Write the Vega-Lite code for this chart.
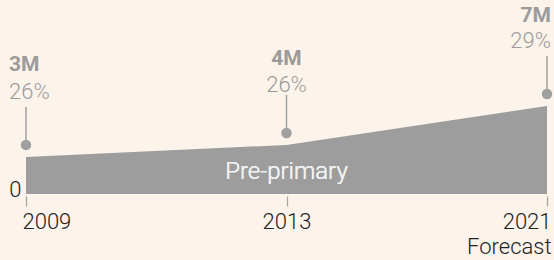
{
  "$schema": "https://vega.github.io/schema/vega-lite/v6.json",
  "width": 521,
  "height": 194,
  "autosize": {"type": "none"},
  "padding": {"left": 26, "top": 0, "right": 7, "bottom": 66},
  "background": "#fcf3ea",
  "config": {"view": {"stroke": null}, "font": "Roboto"},
  "data": {
    "values": [
      {"year": 2009, "value": 2.95, "label": "3M", "share": "26%"},
      {"year": 2013, "value": 3.9, "label": "4M", "share": "26%"},
      {"year": 2021, "value": 7.0, "label": "7M", "share": "29%"}
    ]
  },
  "encoding": {
    "x": {
      "field": "year",
      "type": "ordinal",
      "scale": {"type": "point", "padding": 0},
      "axis": {
        "title": null,
        "domain": false,
        "grid": false,
        "ticks": true,
        "tickSize": 10,
        "tickColor": "#a3a3a3",
        "tickWidth": 1.2,
        "offset": 2,
        "labelAngle": 0,
        "labelFontSize": 22,
        "labelFontWeight": 300,
        "labelColor": "#222222",
        "labelFlush": true,
        "labelFlushOffset": 4,
        "labelPadding": 5,
        "labelLineHeight": 25,
        "labelExpr": "datum.value == 2021 ? ['2021', 'Forecast'] : datum.label"
      }
    },
    "y": {
      "field": "value",
      "type": "quantitative",
      "scale": {"domain": [0, 15.43], "nice": false},
      "axis": {
        "title": null,
        "values": [0],
        "domain": false,
        "ticks": false,
        "grid": false,
        "labelPadding": 5,
        "labelFontSize": 22,
        "labelFontWeight": 300,
        "labelColor": "#222222",
        "labelBaseline": "alphabetic",
        "labelOffset": 2
      }
    }
  },
  "layer": [
    {"mark": {"type": "area", "color": "#9d9d9d", "opacity": 1}},
    {
      "mark": {"type": "rule", "color": "#a3a3a3", "strokeWidth": 1.5, "yOffset": -12, "y2Offset": -50},
      "encoding": {"y2": {"field": "value"}}
    },
    {"mark": {"type": "point", "filled": true, "color": "#a0a0a0", "size": 110, "opacity": 1, "yOffset": -12}},
    {
      "transform": [{"filter": "datum.year == 2009"}],
      "layer": [
        {"mark": {"type": "text", "align": "left", "dx": -17, "dy": -58, "baseline": "alphabetic", "fontSize": 22, "fontWeight": 300, "color": "#9b9b9b"}, "encoding": {"text": {"field": "share"}}},
        {"mark": {"type": "text", "align": "left", "dx": -17, "dy": -86, "baseline": "alphabetic", "fontSize": 21, "fontWeight": "bold", "color": "#9b9b9b"}, "encoding": {"text": {"field": "label"}}}
      ]
    },
    {
      "transform": [{"filter": "datum.year == 2013"}],
      "layer": [
        {"mark": {"type": "text", "align": "center", "dy": -53, "baseline": "alphabetic", "fontSize": 22, "fontWeight": 300, "color": "#9b9b9b"}, "encoding": {"text": {"field": "share"}}},
        {"mark": {"type": "text", "align": "center", "dy": -80, "baseline": "alphabetic", "fontSize": 21, "fontWeight": "bold", "color": "#9b9b9b"}, "encoding": {"text": {"field": "label"}}}
      ]
    },
    {
      "transform": [{"filter": "datum.year == 2021"}],
      "layer": [
        {"mark": {"type": "text", "align": "right", "dx": 4, "dy": -58, "baseline": "alphabetic", "fontSize": 22, "fontWeight": 300, "color": "#9b9b9b"}, "encoding": {"text": {"field": "share"}}},
        {"mark": {"type": "text", "align": "right", "dx": 4, "dy": -84, "baseline": "alphabetic", "fontSize": 21, "fontWeight": "bold", "color": "#9b9b9b"}, "encoding": {"text": {"field": "label"}}}
      ]
    },
    {
      "mark": {"type": "text", "align": "center", "baseline": "alphabetic", "dy": -15, "fontSize": 24, "fontWeight": 300, "color": "#f2f2f2"},
      "encoding": {
        "x": {"datum": 2013},
        "y": {"datum": 0},
        "text": {"value": "Pre-primary"}
      }
    }
  ]
}
